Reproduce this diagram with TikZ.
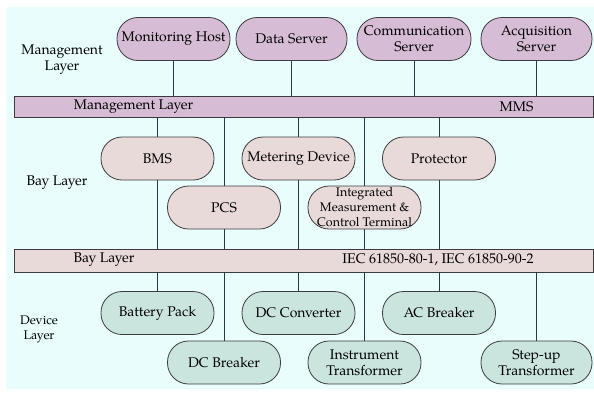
\documentclass[tikz,border=0pt]{standalone}
\usepackage{fontspec}
\setmainfont{TeX Gyre Pagella}
\definecolor{bgcol}{RGB}{234,253,253}
\definecolor{mgcol}{RGB}{214,188,212}
\definecolor{bycol}{RGB}{233,218,218}
\definecolor{dvcol}{RGB}{202,229,222}
\definecolor{edgecol}{RGB}{60,60,64}
\definecolor{wirecol}{RGB}{44,54,74}
\begin{document}
\begin{tikzpicture}[x=1pt,y=-1pt,
  box/.style={draw=edgecol, line width=0.8pt, rounded corners=21pt,
    minimum width=113pt, minimum height=43pt, align=center, inner sep=1pt,
    font=\fontsize{14}{16}\selectfont},
  mgbox/.style={box, fill=mgcol},
  baybox/.style={box, fill=bycol},
  devbox/.style={box, fill=dvcol},
  busbar/.style={draw=edgecol, line width=0.8pt, minimum width=579pt, inner sep=0pt},
  lbl/.style={align=center, inner sep=0pt, font=\fontsize{14}{16}\selectfont},
  wire/.style={draw=wirecol, line width=0.9pt}]
\useasboundingbox (0,0) rectangle (594,392);
\fill[bgcol] (6,7) rectangle (594,389);

% layer captions on the left
\node[lbl] (capM) at (62,60) {Management\\Layer};
\node[lbl] (capB) at (57,183) {Bay Layer};
\node[lbl, font=\fontsize{12.5}{15}\selectfont] (capD) at (39,329.5) {Device\\Layer};

% communication buses
\node[busbar, fill=mgcol, minimum height=21pt] (mbar) at (303.5,106.5) {};
\node[lbl] (mbarL) at (133.5,106.5) {Management Layer};
\node[lbl] (mbarR) at (516.5,106.5) {MMS};
\node[busbar, fill=bycol, minimum height=23pt] (bbar) at (303.5,260.5) {};
\node[lbl] (bbarL) at (104,260) {Bay Layer};
\node[lbl] (bbarR) at (438,260) {IEC 61850-80-1, IEC 61850-90-2};

% management layer
\node[mgbox] (mh) at (173.5,39) {Monitoring Host};
\node[mgbox, minimum width=111pt] (ds) at (291.5,39) {Data Server};
\node[mgbox, minimum width=114pt] (cs) at (414,39) {Communication\\Server};
\node[mgbox, minimum width=111pt] (as) at (536.5,39) {Acquisition\\Server};

% bay layer
\node[baybox] (bms) at (157.5,158.5) {BMS};
\node[baybox] (pcs) at (224,207.5) {PCS};
\node[baybox] (met) at (298.5,158.5) {Metering Device};
\node[baybox, font=\fontsize{12.5}{15}\selectfont] (icm) at (364.5,207.5)
  {Integrated\\Measurement \&\\Control Terminal};
\node[baybox] (pro) at (439,158.5) {Protector};

% device layer
\node[devbox] (bp) at (157.5,313) {Battery Pack};
\node[devbox] (dcb) at (224,362.5) {DC Breaker};
\node[devbox] (dcc) at (298.5,313) {DC Converter};
\node[devbox] (it) at (364.5,362.5) {Instrument\\Transformer};
\node[devbox] (acb) at (439,313) {AC Breaker};
\node[devbox, minimum width=111pt] (su) at (536.5,362.5) {Step-up\\Transformer};

% connections to the management bus
\foreach \n in {mh,ds,cs,as}
  \draw[wire] (\n.south) -- (\n.south |- mbar.north);

% bay devices hang between both buses
\foreach \n in {bms,pcs,met,icm,pro} {
  \draw[wire] (\n.north |- mbar.south) -- (\n.north);
  \draw[wire] (\n.south) -- (\n.south |- bbar.north);
}

% field devices below the bay bus
\foreach \n in {bp,dcb,dcc,it,acb,su}
  \draw[wire] (\n.north |- bbar.south) -- (\n.north);
\end{tikzpicture}
\end{document}
